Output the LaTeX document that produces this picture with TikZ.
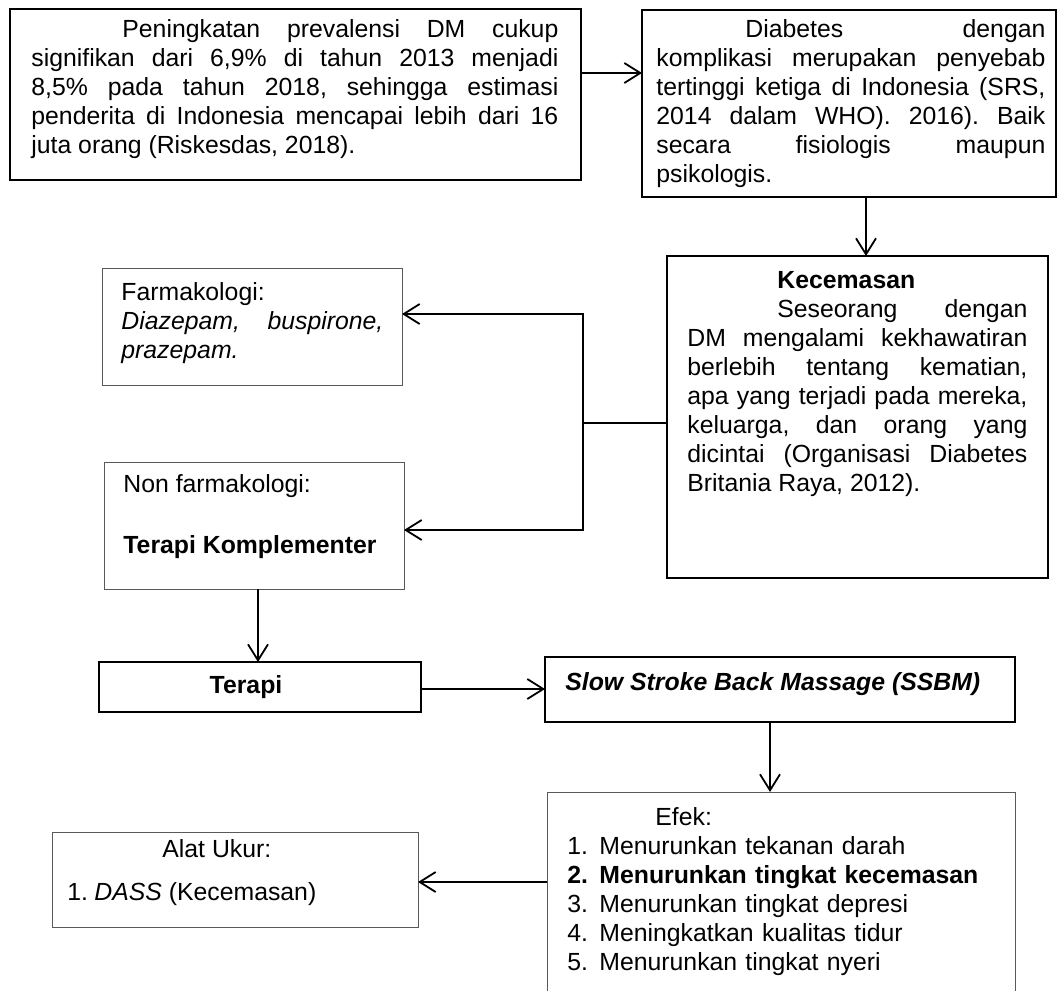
\documentclass[tikz,border=0pt]{standalone}
\usepackage{fontspec}
\setmainfont{Liberation Sans}
\usetikzlibrary{arrows.meta}
\newcommand{\myfs}{\fontsize{12.4}{14.5}\selectfont\frenchspacing}
\hbadness=10000
\hfuzz=5pt
\begin{document}
\begin{tikzpicture}[x=0.5pt,y=-0.5pt,
  font=\myfs,
  thickbox/.style={draw=black,line width=1.25pt,inner sep=0pt,outer sep=0pt,anchor=north west},
  thinbox/.style={draw=black!65,line width=0.5pt,inner sep=0pt,outer sep=0pt,anchor=north west},
  txt/.style={inner sep=0pt,anchor=base west},
  para/.style={txt,align=justify},
  arr/.style={line width=0.9pt,-{Straight Barb[length=8pt,width=10pt,line width=0.9pt]}},
  ln/.style={line width=0.9pt}]
\useasboundingbox (0,0) rectangle (1059,991);

% boxes
\node[thickbox,minimum width=285.5pt,minimum height=85.5pt] (b1) at (10,9) {};
\node[thickbox,minimum width=207pt,minimum height=93.5pt] (b2) at (642,10) {};
\node[thickbox,minimum width=190.5pt,minimum height=161pt] (kec) at (667,256) {};
\node[thinbox,minimum width=150pt,minimum height=58.5pt] (farm) at (102,268) {};
\node[thinbox,minimum width=150pt,minimum height=63.5pt] (nonf) at (104,462) {};
\node[thickbox,minimum width=161pt,minimum height=25pt] (ter) at (99,662) {};
\node[thickbox,minimum width=235pt,minimum height=32.5pt] (ssbm) at (545,657) {};
\node[inner sep=0pt,outer sep=0pt,anchor=north west,minimum width=234pt,minimum height=99.5pt] (efek) at (547,792) {};
\draw[draw=black!65,line width=0.5pt] (efek.south west) -- (efek.north west) -- (efek.north east) -- (efek.south east);
\node[thinbox,minimum width=183pt,minimum height=47.5pt] (alat) at (52,832) {};

% texts
\node[para,text width=263.5pt] (t1) at (31,37) {\hspace*{45.5pt}Peningkatan prevalensi DM cukup\linebreak signifikan dari 6,9\% di tahun 2013 menjadi\linebreak 8,5\% pada tahun 2018, sehingga estimasi\linebreak penderita di Indonesia mencapai lebih dari 16\linebreak juta orang (Riskesdas, 2018).};
\node[para,text width=194.5pt] (t2) at (656,37) {\hspace*{44.5pt}Diabetes dengan\linebreak komplikasi merupakan penyebab\linebreak tertinggi ketiga di Indonesia (SRS,\linebreak 2014 dalam WHO). 2016). Baik\linebreak secara fisiologis maupun\linebreak psikologis.};
\node[para,text width=170pt] (tk) at (687,288) {\hspace*{45pt}\textbf{Kecemasan}\newline\hspace*{45pt}Seseorang dengan\linebreak DM mengalami kekhawatiran\linebreak berlebih tentang kematian,\linebreak apa yang terjadi pada mereka,\linebreak keluarga, dan orang yang\linebreak dicintai (Organisasi Diabetes\linebreak Britania Raya, 2012).};
\node[para,text width=131pt] (tf) at (121,300) {Farmakologi:\newline\textit{Diazepam, buspirone,}\linebreak\textit{prazepam.}};
\node[txt] (tn1) at (123,492) {Non farmakologi:};
\node[txt] (tn2) at (123,553) {\textbf{Terapi Komplementer}};
\node[inner sep=0pt,anchor=base] (tt) at (246,693) {\textbf{Terapi}};
\node[txt] (ts) at (565,690) {\textbf{\textit{Slow Stroke Back Massage (SSBM)}}};
\node[txt,align=left,text width=225pt] (te) at (567,825) {\hspace*{44pt}Efek:\newline
\makebox[16pt][l]{1.}Menurunkan tekanan darah\newline
\textbf{\makebox[16pt][l]{2.}Menurunkan tingkat kecemasan}\newline
\makebox[16pt][l]{3.}Menurunkan tingkat depresi\newline
\makebox[16pt][l]{4.}Meningkatkan kualitas tidur\newline
\makebox[16pt][l]{5.}Menurunkan tingkat nyeri};
\node[txt] (ta1) at (162,857) {Alat Ukur:};
\node[txt] (ta2) at (67,900) {\makebox[13.5pt][l]{1.}\textit{DASS} (Kecemasan)};

% connectors
\coordinate (ya) at (0,73);
\draw[arr] (b1.east |- ya) -- (b2.west |- ya);
\coordinate (xa) at (866,0);
\draw[arr] (b2.south -| xa) -- (kec.north -| xa);
\coordinate (jn) at (583,423);
\draw[ln] (kec.west |- jn) -- (jn);
\coordinate (yf) at (0,314);
\coordinate (yn) at (0,530);
\draw[arr] (jn) -- (jn |- yf) -- (farm.east |- yf);
\draw[arr] (jn) -- (jn |- yn) -- (nonf.east |- yn);
\coordinate (xt) at (258,0);
\draw[arr] (nonf.south -| xt) -- (ter.north -| xt);
\coordinate (yt) at (0,689);
\draw[arr] (ter.east |- yt) -- (ssbm.west |- yt);
\coordinate (xs) at (770,0);
\draw[arr] (ssbm.south -| xs) -- (efek.north -| xs);
\coordinate (ye) at (0,882);
\draw[arr] (efek.west |- ye) -- (alat.east |- ye);
\end{tikzpicture}
\end{document}
